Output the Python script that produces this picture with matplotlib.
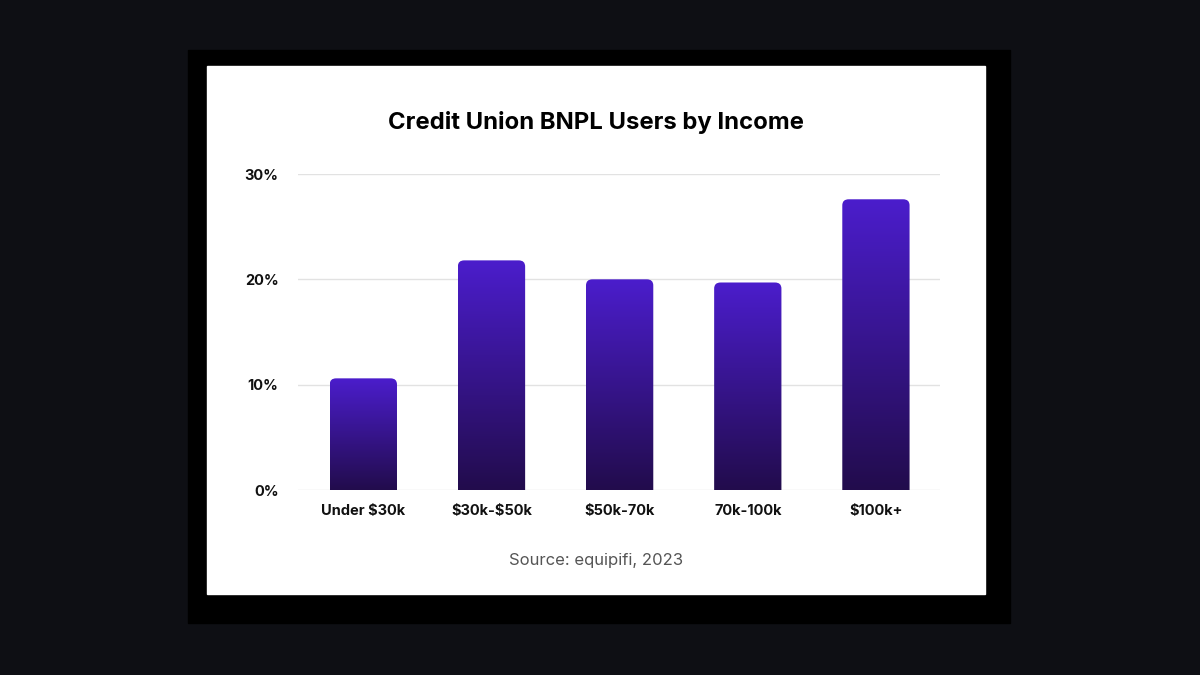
import numpy as np
import matplotlib
matplotlib.use("Agg")
import matplotlib.pyplot as plt
from matplotlib.patches import Rectangle, FancyBboxPatch
from matplotlib.colors import LinearSegmentedColormap

categories = ["Under $30k", "$30k-$50k", "$50k-70k", "70k-100k", "$100k+"]
values = [10.6, 21.8, 20.0, 19.7, 27.6]
yticks = [0, 10, 20, 30]
title = "Credit Union BNPL Users by Income"
source = "Source: equipifi, 2023"

plt.rcParams["font.family"] = ["Inter", "DejaVu Sans"]
plt.rcParams["text.parse_math"] = False  # keep the $ signs literal

fig = plt.figure(figsize=(12, 6.75), dpi=100, facecolor="#0e0f14")
# black frame + white card (drawn under the axes)
fig.patches.append(Rectangle((188/1200, 1-623/675), (1010-188)/1200, (623-50)/675,
                             transform=fig.transFigure, color="#000000", zorder=-10))
fig.patches.append(Rectangle((207/1200, 1-594/675), (985-207)/1200, (594-66)/675,
                             transform=fig.transFigure, color="#ffffff", zorder=-9))

ax = fig.add_axes([298/1200, 1-490/675, (940-298)/1200, (490-174)/675])
ax.set_facecolor("none")

cmap = LinearSegmentedColormap.from_list("bar", ["#220c4c", "#4b1dcc"])
grad = np.linspace(0, 1, 256).reshape(-1, 1)
w = 0.525
for i, v in enumerate(values):
    x0 = i - w/2
    # rounded top corners; bottom corners pushed below 0 and clipped away
    patch = FancyBboxPatch((x0, -2), w, v + 2,
                           boxstyle="round,pad=0,rounding_size=0.05",
                           mutation_aspect=11.5, facecolor="none",
                           edgecolor="none", transform=ax.transData)
    ax.add_patch(patch)
    im = ax.imshow(grad, extent=[x0, x0 + w, 0, v], origin="lower",
                   cmap=cmap, aspect="auto", zorder=2)
    im.set_clip_path(patch)

ax.set_xlim(-0.51, 4.5)
ax.set_ylim(0, 30)
ax.set_yticks(yticks)
ax.set_yticklabels([f"{t}%" for t in yticks])
ax.set_xticks(range(len(categories)))
ax.set_xticklabels(categories)
ax.grid(axis="y", color="#e2e2e2", linewidth=1)
ax.set_axisbelow(True)
for s in ax.spines.values():
    s.set_visible(False)
ax.tick_params(axis="both", length=0, labelsize=10.5, colors="#111111")
ax.tick_params(axis="y", pad=14)
ax.tick_params(axis="x", pad=10)
for lab in ax.get_xticklabels() + ax.get_yticklabels():
    lab.set_fontweight("bold")

fig.text(596/1200, 1-123/675, title, ha="center", va="center",
         fontsize=17.2, fontweight="bold", color="#000000")
fig.text(596/1200, 1-561/675, source, ha="center", va="center",
         fontsize=12, color="#555555")

fig.savefig("out.png", dpi=100, facecolor=fig.get_facecolor())
